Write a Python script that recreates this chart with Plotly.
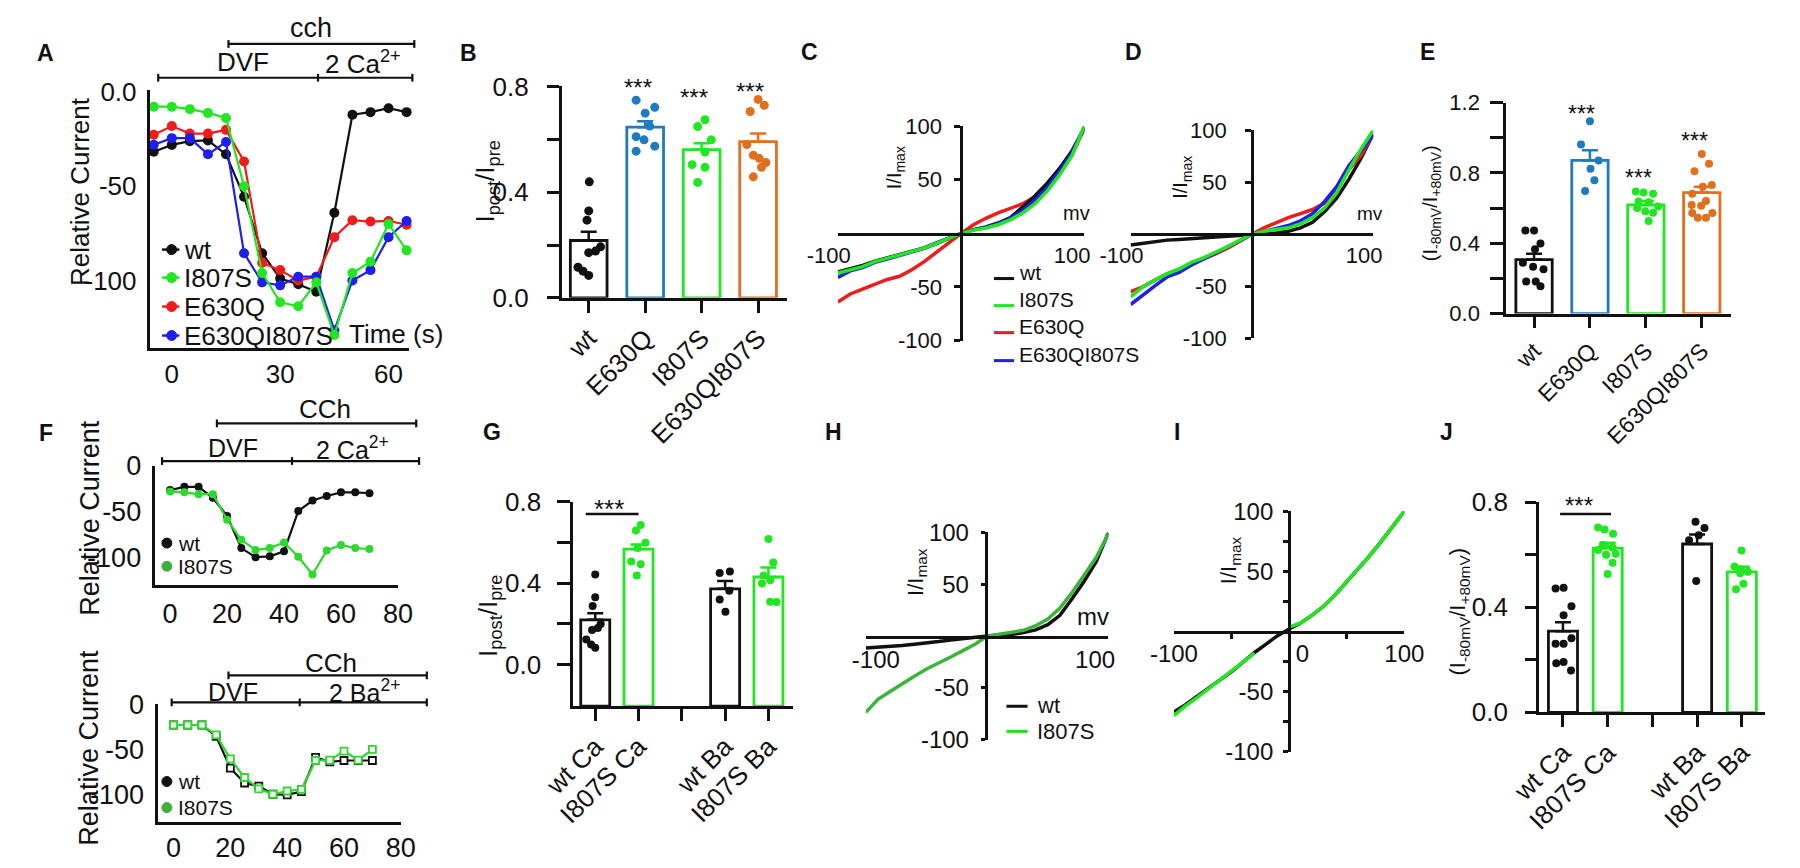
import plotly.graph_objects as go

# ===================== DATA =====================
# Panel A: time course, relative current
a_time = [-5, 0, 5, 10, 15, 20, 25, 30, 35, 40, 45, 50, 55, 60, 65]
a_wt = [-31.6, -28, -26, -25.6, -33, -55.5, -85.5, -99, -102, -106, -64, -12, -10.6, -8.5, -10.6]
a_i807s = [-7.7, -7.7, -9, -11, -13.7, -50, -96, -111.6, -113.7, -101, -129, -96, -90, -70, -84]
a_e630q = [-22.6, -18, -22, -22, -20, -36.8, -90.6, -94.5, -100, -98, -77, -68, -68.7, -68.4, -70.4]
a_double = [-27.9, -24.4, -24.4, -33, -26.5, -85.5, -101, -102.6, -98, -98, -126.5, -100, -94.5, -77, -68.4]
a_names = ["wt", "I807S", "E630Q", "E630QI807S"]

# Panel B: Ipost/Ipre
b_groups = ["wt", "E630Q", "I807S", "E630QI807S"]
b_mean = [0.217, 0.646, 0.561, 0.591]
b_sem = [0.033, 0.022, 0.024, 0.031]
b_wt = [0.439, 0.329, 0.294, 0.193, 0.177, 0.171, 0.116, 0.101, 0.085]
b_e630q = [0.748, 0.721, 0.699, 0.650, 0.610, 0.598, 0.574, 0.555]
b_i807s = [0.674, 0.648, 0.598, 0.552, 0.504, 0.494, 0.437]
b_double = [0.751, 0.729, 0.705, 0.580, 0.540, 0.528, 0.512, 0.494, 0.458]
b_wt_dx = [0.01, 0, -0.03, 0.21, 0.12, 0, -0.19, -0.10, 0]
b_e630q_dx = [-0.16, 0.17, 0, 0.08, -0.16, -0.02, 0.17, -0.16]
b_i807s_dx = [0.06, -0.07, 0.17, 0.06, -0.17, 0.06, -0.07]
b_double_dx = [0, 0.11, -0.14, -0.2, -0.085, 0.02, 0.14, 0.06, -0.085]

# Panels C, D, H, I: I-V curves (mV vs I/Imax)
iv_mv = [-100, -90, -80, -70, -60, -50, -40, -30, -20, -10, 0, 10, 20, 30, 40, 50, 60, 70, 80, 90, 100]
c_wt = [-36, -33, -30, -26, -23, -19.5, -16.5, -13.5, -9, -4.5, 0, 3.5, 6, 9.6, 14.7, 24.6, 35, 47, 60.7, 77, 98]
c_i807s = [-37, -34, -31, -26.4, -23.4, -19.8, -16.8, -13.8, -9.3, -4.8, 0, 3, 5, 8, 12.6, 19, 27.6, 39.6, 54.7, 72.7, 100]
c_e630q = [-64, -56.5, -52, -47.4, -43, -40, -34, -26.4, -17.4, -8.4, 0, 8, 14, 19, 23, 27.6, 34, 42, 56, 73, 98]
c_double = [-41, -35, -32, -27, -24, -20.5, -17.5, -14, -9.5, -5, 0, 3.2, 5.5, 9, 14, 21.5, 31, 43, 58, 75, 99]

d_wt = [-10.2, -8.7, -7, -5.6, -5, -4, -3.1, -2.5, -1.9, -0.9, 0, 0.6, 1.2, 3, 6.2, 11.5, 22, 35, 53, 73, 96.6]
d_i807s = [-60, -50.5, -44, -38, -33.4, -27, -22.6, -17.3, -11.8, -5.6, 0, 3, 4.3, 6.2, 9.9, 16, 25.4, 40, 62, 82, 100]
d_e630q = [-55, -50.5, -44, -38, -33.4, -28.8, -23.5, -18.9, -13.3, -6.2, 0, 6.2, 11.5, 16, 19.8, 23.8, 30, 44, 62, 76, 96.6]
d_double = [-67.5, -58, -49.5, -41, -36.5, -29.7, -24, -18, -11.8, -6.2, 0, 3, 5.3, 8.4, 13, 19.8, 31.6, 46, 66, 80, 95]

h_wt = [-11.5, -10.9, -10, -9, -7.8, -6.8, -5.3, -3.7, -2.2, -0.9, 0, 1, 1.6, 3.4, 6, 11, 20, 36, 53, 72, 100]
h_i807s = [-73.6, -61, -53.4, -45.6, -38.8, -31.7, -26.4, -20.2, -14, -7.8, 0, 1.6, 3.4, 5.6, 10, 16.5, 27, 42, 59, 76, 99]

i_wt = [-67, -61, -54, -47, -40.5, -33.5, -25.5, -17.5, -10.5, -3.5, 2, 7, 13.5, 21, 30.5, 41, 52, 63, 75, 87.5, 100]
i_i807s = [-70, -62, -55, -47.5, -40, -33, -25, -18, None, None, 3.5, 7, 13.5, 21, 30.5, 41, 52, 63, 75, 87.5, 100]

# Panel E: I-80mV / I+80mV
e_mean = [0.307, 0.871, 0.618, 0.688]
e_sem = [0.033, 0.058, 0.022, 0.034]
e_wt = [0.472, 0.472, 0.399, 0.366, 0.289, 0.267, 0.252, 0.183, 0.183, 0.155]
e_e630q = [1.094, 0.962, 0.871, 0.823, 0.759, 0.697]
e_i807s = [0.695, 0.688, 0.682, 0.637, 0.633, 0.609, 0.600, 0.582, 0.573, 0.527]
e_double = [0.907, 0.852, 0.810, 0.731, 0.722, 0.682, 0.640, 0.618, 0.614, 0.572, 0.572, 0.545, 0.545]
e_wt_dx = [-0.155, 0, 0.115, 0.017, -0.2, -0.017, 0.17, -0.14, 0.03, 0.115]
e_e630q_dx = [0, -0.16, 0.155, 0.01, 0.08, -0.086]
e_i807s_dx = [-0.18, -0.04, 0.13, -0.13, 0.05, 0.22, -0.155, -0.01, 0.13, 0.05]
e_double_dx = [0, 0.13, -0.13, 0.18, 0.02, -0.17, 0.075, -0.18, -0.01, -0.17, 0.19, -0.07, 0.075]

# Panel F: time courses in Ca2+ and Ba2+
f_time = [0, 5, 10, 15, 20, 25, 30, 35, 40, 45, 50, 55, 60, 65, 70]
f_ca_wt = [-26.5, -23, -23, -35, -55, -90, -100, -99, -93.6, -49.5, -38, -33, -29, -29, -30]
f_ca_i807s = [-28, -29, -31, -31, -59, -81, -92, -90, -84, -99.6, -119, -92.6, -86.6, -90, -91]
f_ba_wt = [-23, -23, -23, -35.7, -71, -87.5, -91, -100, -100.7, -97, -59, -64, -62.5, -62.5, -62.5]
f_ba_i807s = [-23, -23, -23, -34, -60.7, -81.4, -94, -100, -96.4, -94.6, -62.5, -62, -52, -62, -50]

# Panel G: Ipost/Ipre, Ca vs Ba
g_groups = ["wt Ca", "I807S Ca", "wt Ba", "I807S Ba"]
g_pos = [0, 1, 3, 4]
g_mean = [0.220, 0.567, 0.372, 0.430]
g_sem = [0.032, 0.023, 0.039, 0.047]
g_wt_ca = [0.442, 0.331, 0.288, 0.200, 0.180, 0.170, 0.123, 0.099, 0.083]
g_i807s_ca = [0.685, 0.658, 0.598, 0.572, 0.506, 0.493, 0.438]
g_wt_ba = [0.450, 0.457, 0.362, 0.320, 0.260]
g_i807s_ba = [0.616, 0.501, 0.438, 0.414, 0.398, 0.309, 0.307]
g_wt_ca_dx = [0, 0, -0.06, 0.126, 0.06, -0.074, -0.207, -0.096, 0]
g_i807s_ca_dx = [0.05, -0.06, 0.16, -0.02, -0.17, 0.05, -0.04]
g_wt_ba_dx = [-0.126, 0.11, 0.096, -0.126, 0.007]
g_i807s_ba_dx = [0, 0.11, -0.11, 0.04, -0.15, 0.04, 0.185]

# Panel J: I-80mV / I+80mV, Ca vs Ba
j_mean = [0.309, 0.625, 0.641, 0.535]
j_sem = [0.034, 0.021, 0.036, 0.019]
j_wt_ca = [0.472, 0.474, 0.404, 0.370, 0.261, 0.261, 0.282, 0.187, 0.192, 0.159]
j_i807s_ca = [0.704, 0.696, 0.680, 0.637, 0.628, 0.618, 0.600, 0.604, 0.570, 0.527]
j_wt_ba = [0.726, 0.702, 0.674, 0.655, 0.500]
j_i807s_ba = [0.616, 0.555, 0.545, 0.535, 0.530, 0.490, 0.469]
j_wt_ca_dx = [-0.165, 0.014, 0.19, 0.014, -0.165, 0.014, 0.19, -0.15, 0.014, 0.18]
j_i807s_ca_dx = [-0.215, -0.07, 0.12, -0.11, 0.11, -0.215, -0.036, 0.18, 0.11, 0]
j_wt_ba_dx = [-0.036, 0.165, 0.036, -0.18, -0.02]
j_i807s_ba_dx = [-0.007, -0.165, -0.02, 0.136, -0.036, 0.036, -0.13]

# ===================== STYLE =====================
FONT = "Arial, 'Liberation Sans', sans-serif"
INK = "#111111"
BLACK = "#111111"
GREEN = "#22e622"
RED = "#f01c1c"
BLUE = "#1e1eee"
SBLUE = "#1f7ac0"
ORANGE = "#e0701e"
DGREEN = "#3cb43c"
FGREEN = "#2ed82e"
NB = "\u00a0"
W, H = 1800, 868


def fx(p):
    return p / W


def fy(p):
    return 1 - p / H


def dx(a, b):
    return [a / W, b / W]


def dy(top, bot):
    return [1 - bot / H, 1 - top / H]


def refs(n):
    return ("x" if n == 1 else f"x{n}"), ("y" if n == 1 else f"y{n}")


def keys(n):
    return ("xaxis" if n == 1 else f"xaxis{n}"), ("yaxis" if n == 1 else f"yaxis{n}")


def axstyle(size, **kw):
    d = dict(showgrid=False, zeroline=False, showline=True, linecolor=INK, linewidth=2.5,
             ticks="", tickcolor=INK, tickwidth=2.5, ticklen=0, tickmode="array",
             tickfont=dict(family=FONT, size=size, color=INK), fixedrange=True,
             layer="above traces")
    d.update(kw)
    return d


def minor(vals, ln):
    return dict(tickmode="array", tickvals=vals, ticks="outside", ticklen=ln, tickwidth=2.5,
                tickcolor=INK, showgrid=False)


fig = go.Figure()
layout = dict(width=W, height=H, margin=dict(l=0, r=0, t=0, b=0),
              paper_bgcolor="white", plot_bgcolor="rgba(0,0,0,0)",
              showlegend=False, barmode="overlay", font=dict(family=FONT, color=INK))
ann = []
shp = []


def text(x, y, s, size, angle=0, xanchor="center", yanchor="middle", color=INK):
    ann.append(dict(x=fx(x), y=fy(y), xref="paper", yref="paper", text=s, showarrow=False,
                    font=dict(family=FONT, size=size, color=color), xanchor=xanchor,
                    yanchor=yanchor, textangle=angle))


def pline(x0, x1, y0, y1, color=INK, w=2.2):
    shp.append(dict(type="line", xref="paper", yref="paper", x0=fx(x0), x1=fx(x1),
                    y0=fy(y0), y1=fy(y1), line=dict(color=color, width=w)))


def pdot(x, y, color, d):
    shp.append(dict(type="circle", xref="paper", yref="paper", xsizemode="pixel",
                    ysizemode="pixel", xanchor=fx(x), yanchor=fy(y), x0=-d / 2, x1=d / 2,
                    y0=-d / 2, y1=d / 2, fillcolor=color, line=dict(color=color, width=1)))


def protocol(x0, x1, y, ticks):
    pline(x0, x1, y, y)
    for t in ticks:
        pline(t, t, y - 4, y + 4)


# ===================== PANEL A =====================
xa, ya = keys(1)
layout[xa] = axstyle(26, domain=dx(121, 390), range=[-5.9, 65.8], anchor="y",
                     tickvals=[0, 30, 60], ticktext=["0", "30", "60"], ticklabelstandoff=1)
layout[ya] = axstyle(26, domain=dy(78, 345), range=[-135.9, 1], anchor="x",
                     tickvals=[0, -50, -100], ticktext=["0.0", "-50", "-100"], ticklabelstandoff=6)
rx, ry = refs(1)
for vals, col in [(a_wt, BLACK), (a_e630q, RED), (a_double, BLUE), (a_i807s, GREEN)]:
    fig.add_trace(go.Scatter(x=a_time, y=vals, mode="lines+markers", xaxis=rx, yaxis=ry,
                             line=dict(color=col, width=2.2), marker=dict(color=col, size=10),
                             cliponaxis=False))
for name, col, y in zip(a_names, [BLACK, GREEN, RED, BLUE], [243, 272, 302, 332]):
    pline(133, 151, y, y, col, 2.5)
    pdot(143, y, col, 10)
    text(154, y, name, 26, xanchor="left")
text(47, 183, "Relative Current", 26, angle=-90)
text(376, 330, "Time (s)", 26)
text(288, 13, "cch", 27)
protocol(202, 395, 30, [202, 395])
text(217, 49, "DVF", 26)
text(342, 49, "2 Ca<sup>2+</sup>", 26)
protocol(129, 393, 65, [129, 295, 393])


# ===================== BAR PANEL HELPER =====================
def bar_panel(n, pos, means, sems, pts, jit, cols, width, base=0.0, size=9):
    rx, ry = refs(n)
    for p, m, c in zip(pos, means, cols):
        fig.add_trace(go.Bar(x=[p], y=[m - base], base=[base], width=width, xaxis=rx, yaxis=ry,
                             marker=dict(color="rgba(255,255,255,0)", line=dict(color=c, width=2.8))))
    for p, m, s, c in zip(pos, means, sems, cols):
        fig.add_trace(go.Scatter(x=[p], y=[m], mode="markers", xaxis=rx, yaxis=ry,
                                 marker=dict(size=1, color="rgba(0,0,0,0)"),
                                 error_y=dict(type="data", symmetric=False, array=[s], arrayminus=[0],
                                              color=c, thickness=2.5, width=8)))
    for p, vals, offs, c in zip(pos, pts, jit, cols):
        fig.add_trace(go.Scatter(x=[p + o for o in offs], y=vals, mode="markers", xaxis=rx, yaxis=ry,
                                 marker=dict(color=c, size=size), cliponaxis=False))


# ===================== PANEL B =====================
xa, ya = keys(2)
layout[xa] = axstyle(26, domain=dx(548, 782), range=[-0.48, 3.51], anchor="y2",
                     tickvals=[0, 1, 2, 3], ticktext=b_groups, ticks="outside", ticklen=12,
                     tickangle=-45)
layout[ya] = axstyle(26, domain=dy(74, 293), range=[0, 0.8], anchor="x2",
                     tickvals=[0, 0.4, 0.8], ticktext=["0.0", "0.4", "0.8"],
                     ticks="outside", ticklen=12, ticklabelstandoff=13,
                     minor=minor([0.2, 0.6], 12))
bar_panel(2, [0, 1, 2, 3], b_mean, b_sem, [b_wt, b_e630q, b_i807s, b_double],
          [b_wt_dx, b_e630q_dx, b_i807s_dx, b_double_dx], [BLACK, SBLUE, GREEN, ORANGE], 0.65)
text(470, 173, "I<sub>post</sub>/I<sub>pre</sub>", 26, angle=-90)
for x, y in [(627, 69), (686, 79), (744, 73)]:
    text(x, y + 6, "***", 24)


# ===================== IV PANEL HELPER =====================
def iv_panel(n, xd, yd, x0px, y0px, size, xtext, standoff, xvals=None, xminor=None,
             yminor=None, tl=6):
    xa, ya = keys(n)
    rx, ry = refs(n)
    xd_ = axstyle(size, domain=dx(*xd), range=[-100, 100], anchor="free", position=fy(y0px),
                  tickvals=xvals or [-100, 100], ticktext=xtext)
    if xminor:
        xd_["minor"] = minor(xminor, 5)
    yd_ = axstyle(size, domain=dy(*yd), range=[-100, 100], anchor="free", position=fx(x0px),
                  tickvals=[-100, -50, 50, 100], ticktext=["-100", "-50", "50", "100"],
                  ticks="outside", ticklen=tl, ticklabelstandoff=standoff)
    if yminor:
        yd_["minor"] = minor(yminor, tl)
    layout[xa] = xd_
    layout[ya] = yd_
    return rx, ry


def iv_trace(rx, ry, vals, col, w=3.5):
    fig.add_trace(go.Scatter(x=iv_mv, y=vals, mode="lines", xaxis=rx, yaxis=ry,
                             line=dict(color=col, width=w)))


# ===================== PANEL C =====================
rx, ry = iv_panel(3, (835, 1091), (115, 337.3), 963, 227.3, 22,
                  ["-100" + NB * 3, "100" + NB * 4], 8)
for vals, col in [(c_e630q, RED), (c_wt, BLACK), (c_double, BLUE), (c_i807s, GREEN)]:
    iv_trace(rx, ry, vals, col)
text(895, 158, "I/I<sub>max</sub>", 20, angle=-90)
text(1083, 205, "mv", 20)
for name, col, y in zip(["wt", "I807S", "E630Q", "E630QI807S"], [BLACK, GREEN, RED, BLUE],
                        [267, 295, 323, 352]):
    pline(997, 1018, y + 6, y + 6, col, 3)
    text(1021, y, name, 21, xanchor="left")

# ===================== PANEL D =====================
rx, ry = iv_panel(4, (1139, 1391), (119.3, 335), 1265, 227.3, 22,
                  ["-100" + NB * 3, "100" + NB * 3], 14)
for vals, col in [(d_wt, BLACK), (d_e630q, RED), (d_double, BLUE), (d_i807s, GREEN)]:
    iv_trace(rx, ry, vals, col)
text(1192, 168, "I/I<sub>max</sub>", 20, angle=-90)
text(1388, 206, "mv", 19)

# ===================== PANEL E =====================
xa, ya = keys(5)
layout[xa] = axstyle(23, domain=dx(1529, 1763), range=[-0.5, 3.53], anchor="y5",
                     tickvals=[0, 1, 2, 3], ticktext=b_groups, ticks="outside", ticklen=12,
                     tickangle=-45)
layout[ya] = axstyle(22, domain=dy(90.7, 309.3), range=[0, 1.2], anchor="x5",
                     tickvals=[0, 0.4, 0.8, 1.2], ticktext=["0.0", "0.4", "0.8", "1.2"],
                     ticks="outside", ticklen=13, ticklabelstandoff=6,
                     minor=minor([0.2, 0.6, 1.0], 13))
bar_panel(5, [0, 1, 2, 3], e_mean, e_sem, [e_wt, e_e630q, e_i807s, e_double],
          [e_wt_dx, e_e630q_dx, e_i807s_dx, e_double_dx], [BLACK, SBLUE, GREEN, ORANGE], 0.65, size=8)
text(1451, 195, "(I<sub>-80mV</sub>/I<sub>+80mV</sub>)", 20, angle=-90)
for x, y in [(1607, 97), (1667, 163), (1725, 124)]:
    text(x, y + 6, "***", 23)

# ===================== PANEL F (top, Ca) =====================
xa, ya = keys(6)
layout[xa] = axstyle(27, domain=dx(126, 378), range=[-5.2, 80], anchor="y6",
                     tickvals=[0, 20, 40, 60, 80], ticktext=["0", "20", "40", "60", "80"],
                     ticklabelstandoff=3)
layout[ya] = axstyle(27, domain=dy(467, 590), range=[-130, 0], anchor="x6",
                     tickvals=[0, -50, -100], ticktext=["0", "-50", "-100"], ticklabelstandoff=6)
rx, ry = refs(6)
for vals, col in [(f_ca_wt, BLACK), (f_ca_i807s, FGREEN)]:
    fig.add_trace(go.Scatter(x=f_time, y=vals, mode="lines+markers", xaxis=rx, yaxis=ry,
                             line=dict(color=col, width=2.2), marker=dict(color=col, size=8),
                             cliponaxis=False))
text(58, 521, "Relative Current", 27, angle=-90)
pdot(138, 547, BLACK, 10)
text(148, 547, "wt", 21, xanchor="left")
pdot(138, 571, "#3cb03c", 10)
text(148, 571, "I807S", 21, xanchor="left")
text(302, 408, "CCh", 26)
protocol(190, 397, 423, [190, 397])
text(207, 448, "DVF", 25)
text(331, 448, "2 Ca<sup>2+</sup>", 25)
protocol(133, 400, 462, [133, 268, 400])

# ===================== PANEL F (bottom, Ba) =====================
xa, ya = keys(7)
layout[xa] = axstyle(27, domain=dx(129, 381), range=[-5.4, 80], anchor="y7",
                     tickvals=[0, 20, 40, 60, 80], ticktext=["0", "20", "40", "60", "80"],
                     ticklabelstandoff=0)
layout[ya] = axstyle(27, domain=dy(714, 836), range=[-131, 0], anchor="x7",
                     tickvals=[0, -50, -100], ticktext=["0", "-50", "-100"], ticklabelstandoff=6)
rx, ry = refs(7)
for vals, col in [(f_ba_wt, BLACK), (f_ba_i807s, FGREEN)]:
    fig.add_trace(go.Scatter(x=f_time, y=vals, mode="lines+markers", xaxis=rx, yaxis=ry,
                             line=dict(color=col, width=2.2),
                             marker=dict(color="white", size=7, symbol="square",
                                         line=dict(color=col, width=1.8)),
                             cliponaxis=False))
text(57, 759, "Relative Current", 27, angle=-90)
pdot(138, 794, BLACK, 10)
text(148, 794, "wt", 21, xanchor="left")
pdot(138, 821, "#3cb03c", 10)
text(148, 821, "I807S", 21, xanchor="left")
text(308, 671, "CCh", 26)
protocol(202, 408, 684, [202, 408])
text(207, 701, "DVF", 25)
text(343, 700, "2 Ba<sup>2+</sup>", 25)
protocol(143, 408, 712, [143, 276, 408])

# ===================== PANEL G =====================
xa, ya = keys(8)
layout[xa] = axstyle(26, domain=dx(560, 788), range=[-0.51, 4.56], anchor="y8",
                     tickvals=g_pos, ticktext=g_groups, ticks="outside", ticklen=12,
                     tickangle=-45, minor=minor([2], 12))
layout[ya] = axstyle(26, domain=dy(504, 716), range=[-0.204, 0.8], anchor="x8",
                     tickvals=[0, 0.4, 0.8], ticktext=["0.0", "0.4", "0.8"],
                     ticks="outside", ticklen=13, ticklabelstandoff=11,
                     minor=minor([0.2, 0.6], 13))
bar_panel(8, g_pos, g_mean, g_sem, [g_wt_ca, g_i807s_ca, g_wt_ba, g_i807s_ba],
          [g_wt_ca_dx, g_i807s_ca_dx, g_wt_ba_dx, g_i807s_ba_dx], [BLACK, GREEN, BLACK, GREEN],
          0.67, base=-0.204, size=8)
rx, ry = refs(8)
shp.append(dict(type="line", xref=rx, yref=ry, x0=-0.22, x1=1.0, y0=0.739, y1=0.739,
                line=dict(color=INK, width=2.5)))
text(597, 512, "***", 26)
text(473, 622, "I<sub>post</sub>/I<sub>pre</sub>", 26, angle=-90)

# ===================== PANEL H =====================
rx, ry = iv_panel(9, (864, 1116), (536, 750.7), 988.3, 644.3, 24,
                  [NB * 3 + "-100", "100" + NB * 4], 7, tl=4)
iv_trace(rx, ry, h_wt, BLACK)
iv_trace(rx, ry, h_i807s, DGREEN)
text(917, 577, "I/I<sub>max</sub>", 22, angle=-90)
text(1100, 623, "mv", 24)
pline(1010, 1032, 716, 716, BLACK, 3)
text(1040, 715, "wt", 22, xanchor="left")
pline(1010, 1032, 742, 742, "#22dd22", 3)
text(1040, 742, "I807S", 22, xanchor="left")

# ===================== PANEL I =====================
rx, ry = iv_panel(10, (1184, 1423.3), (514, 763), 1303.3, 639, 24,
                  ["-100", NB * 4 + "0", "100"], 5,
                  xvals=[-100, 0, 100], xminor=[-50, 50],
                  yminor=[-75, -25, 25, 75], tl=5)
iv_trace(rx, ry, i_wt, BLACK)
iv_trace(rx, ry, i_i807s, GREEN)
text(1243, 565, "I/I<sub>max</sub>", 22, angle=-90)

# ===================== PANEL J =====================
xa, ya = keys(11)
layout[xa] = axstyle(26, domain=dx(1563, 1798), range=[-0.54, 4.52], anchor="y11",
                     tickvals=g_pos, ticktext=g_groups, ticks="outside", ticklen=12,
                     tickangle=-45, minor=minor([2], 12))
layout[ya] = axstyle(26, domain=dy(504.7, 722.3), range=[0, 0.8], anchor="x11",
                     tickvals=[0, 0.4, 0.8], ticktext=["0.0", "0.4", "0.8"],
                     ticks="outside", ticklen=11, ticklabelstandoff=12,
                     minor=minor([0.2, 0.6], 11))
bar_panel(11, g_pos, j_mean, j_sem, [j_wt_ca, j_i807s_ca, j_wt_ba, j_i807s_ba],
          [j_wt_ca_dx, j_i807s_ca_dx, j_wt_ba_dx, j_i807s_ba_dx], [BLACK, GREEN, BLACK, GREEN],
          0.65, size=8)
rx, ry = refs(11)
shp.append(dict(type="line", xref=rx, yref=ry, x0=-0.065, x1=1.075, y0=0.755, y1=0.755,
                line=dict(color=INK, width=2.5)))
text(1605, 508, "***", 24)
text(1480, 618, "(I<sub>-80mV</sub>/I<sub>+80mV</sub>)", 22, angle=-90)

# ===================== PANEL LETTERS =====================
for letter, x, y in [("A", 12, 39), ("B", 451, 39), ("C", 806, 38), ("D", 1142, 38), ("E", 1447, 38),
                     ("F", 12, 433), ("G", 476, 432), ("H", 830, 432), ("I", 1187, 432), ("J", 1467, 432)]:
    text(x, y, "<b>" + letter + "</b>", 23)

layout["annotations"] = ann
layout["shapes"] = shp
fig.update_layout(**layout)
fig.write_html("out.html", config={"displayModeBar": False},
               post_script="document.body.style.margin='0';")
